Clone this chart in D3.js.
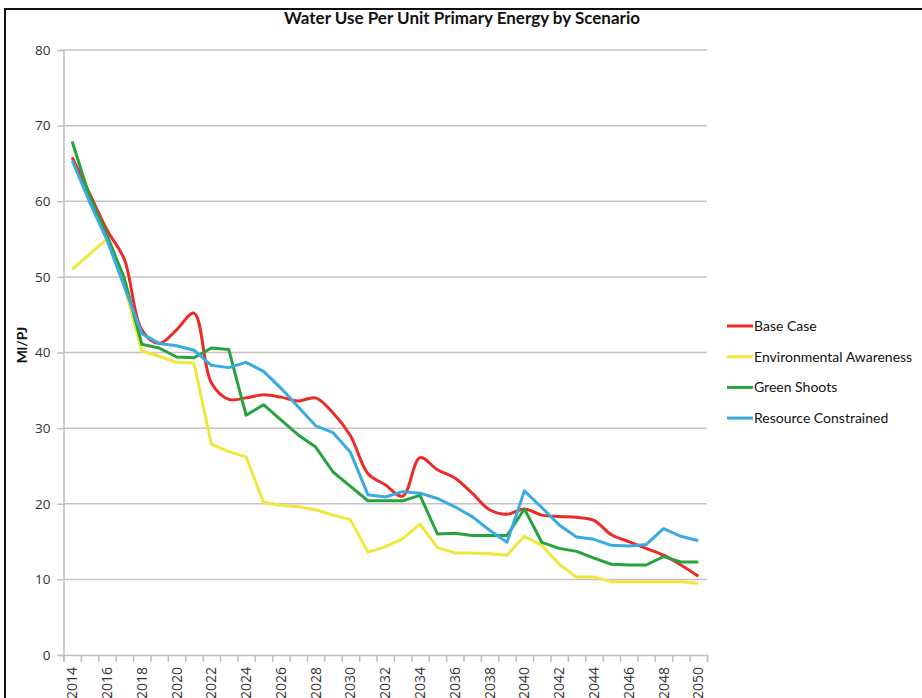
<!DOCTYPE html>
<meta charset="utf-8">
<title>Water Use Per Unit Primary Energy by Scenario</title>
<style>
body {
  margin: 0px;
  background: #fff;
}
svg {
  display: block;
  background-color: #fff;
}
.tick text {
  font-family: "Open Sans", sans-serif;
  fill: #333;
}
.legend text {
  font-family: Lato, sans-serif;
  font-size: 14px;
  fill: #111;
}
</style>

<script src="https://d3js.org/d3.v7.min.js"></script>

<body>
<script>
var width = 922, height = 698;

// categories
var years = [2014, 2015, 2016, 2017, 2018, 2019, 2020, 2021, 2022, 2023,
             2024, 2025, 2026, 2027, 2028, 2029, 2030, 2031, 2032, 2033,
             2034, 2035, 2036, 2037, 2038, 2039, 2040, 2041, 2042, 2043,
             2044, 2045, 2046, 2047, 2048, 2049, 2050];

// series values (Ml/PJ)
var baseCase = [65.8, 61.0, 56.2, 52.3, 43.0, 41.2, 43.0, 45.2, 36.0, 33.8,
                34.0, 34.4, 34.1, 33.6, 34.0, 32.0, 29.0, 24.0, 22.5, 21.0,
                26.1, 24.5, 23.4, 21.4, 19.2, 18.6, 19.3, 18.5, 18.3, 18.2,
                17.8, 15.9, 15.0, 14.1, 13.2, 11.9, 10.4];
var envAwareness = [51.0, 53.0, 55.0, 48.8, 40.2, 39.5, 38.7, 38.6, 27.9, 26.9,
                    26.2, 20.2, 19.8, 19.6, 19.2, 18.5, 17.9, 13.6, 14.3, 15.4,
                    17.3, 14.2, 13.5, 13.5, 13.4, 13.2, 15.7, 14.5, 12.0, 10.3,
                    10.3, 9.7, 9.7, 9.7, 9.7, 9.7, 9.5];
var greenShoots = [67.9, 60.6, 55.5, 49.8, 41.1, 40.6, 39.4, 39.3, 40.6, 40.4,
                   31.7, 33.1, 31.1, 29.1, 27.5, 24.2, 22.3, 20.4, 20.4, 20.4,
                   21.1, 16.0, 16.1, 15.8, 15.8, 15.8, 19.3, 14.9, 14.1, 13.7,
                   12.8, 12.0, 11.9, 11.9, 13.0, 12.3, 12.3];
var resourceConstrained = [65.4, 59.9, 54.9, 48.7, 42.5, 41.2, 40.9, 40.3, 38.3, 38.0,
                           38.7, 37.5, 35.3, 32.8, 30.3, 29.4, 26.8, 21.2, 20.9, 21.6,
                           21.4, 20.7, 19.6, 18.3, 16.5, 14.9, 21.7, 19.5, 17.2, 15.6,
                           15.3, 14.5, 14.4, 14.6, 16.7, 15.7, 15.1];

var seriesNames = ["Base Case", "Environmental Awareness", "Green Shoots", "Resource Constrained"];
var seriesColors = ["#ee2a24", "#eee83a", "#25a33d", "#3aaae2"];
var yTicks = [0, 10, 20, 30, 40, 50, 60, 70, 80];

var series = [baseCase, envAwareness, greenShoots, resourceConstrained];

var svg = d3.select("body").append("svg")
    .attr("width", width)
    .attr("height", height);

// frame of the screenshot
svg.append("path")
    .attr("d", "M5,698 V9 H922")
    .attr("fill", "none")
    .attr("stroke", "#111")
    .attr("stroke-width", 2);

var plotL = 63.5, plotR = 707, plotT = 50, plotB = 655;

var x = d3.scaleLinear()
    .domain([years[0] - 0.5, years[years.length - 1] + 0.5])
    .range([plotL, plotR]);
var y = d3.scaleLinear()
    .domain([0, 80])
    .range([plotB, plotT]);

// gridlines
svg.append("g")
    .selectAll("line")
    .data(yTicks.slice(1))
  .enter().append("line")
    .attr("x1", plotL)
    .attr("x2", plotR)
    .attr("y1", function(d) { return y(d); })
    .attr("y2", function(d) { return y(d); })
    .attr("stroke", "#c4c4c4")
    .attr("stroke-width", 1.5);

// y axis
var yAxis = svg.append("g")
    .attr("transform", "translate(" + plotL + ",0)")
    .call(d3.axisLeft(y).tickValues(yTicks).tickSize(6).tickPadding(7));
yAxis.selectAll("line, path").attr("stroke", "#bdbdbd").attr("stroke-width", 1.5);
yAxis.selectAll("text").style("font-size", "13.5px");

// x axis: ticks between categories
var xAxis = svg.append("g")
    .attr("transform", "translate(0," + plotB + ")")
    .call(d3.axisBottom(x)
      .tickValues(years.map(function(d) { return d - 0.5; }).concat([years[years.length - 1] + 0.5]))
      .tickSize(7)
      .tickFormat(""));
xAxis.selectAll("line, path").attr("stroke", "#bdbdbd").attr("stroke-width", 1.5);

svg.append("g")
    .selectAll("text")
    .data(years.filter(function(d) { return d % 2 == 0; }))
  .enter().append("text")
    .attr("transform", function(d) { return "translate(" + (x(d) + 5) + "," + (plotB + 12) + ") rotate(-90)"; })
    .attr("text-anchor", "end")
    .style("font-family", "'Open Sans', sans-serif")
    .style("font-size", "14px")
    .style("fill", "#333")
    .text(function(d) { return d; });

// lines
var line = d3.line()
    .x(function(d, i) { return x(years[i]); })
    .y(function(d) { return y(d); });
var smooth = d3.line()
    .x(function(d, i) { return x(years[i]); })
    .y(function(d) { return y(d); })
    .curve(d3.curveCatmullRom.alpha(0.5));

svg.append("g")
    .selectAll("path")
    .data(series)
  .enter().append("path")
    .attr("d", function(d, i) { return i == 0 ? smooth(d) : line(d); })
    .attr("fill", "none")
    .attr("stroke", function(d, i) { return seriesColors[i]; })
    .attr("stroke-width", 3)
    .attr("stroke-linejoin", "round");

// title
svg.append("text")
    .attr("x", 462)
    .attr("y", 24)
    .attr("text-anchor", "middle")
    .style("font-family", "Lato, sans-serif")
    .style("font-weight", "bold")
    .style("font-size", "17px")
    .style("fill", "#111")
    .text("Water Use Per Unit Primary Energy by Scenario");

// y axis title
svg.append("text")
    .attr("transform", "translate(27,345) rotate(-90)")
    .attr("text-anchor", "middle")
    .style("font-family", "Lato, sans-serif")
    .style("font-weight", "bold")
    .style("font-size", "14px")
    .style("fill", "#111")
    .text("Ml/PJ");

// legend
var legend = svg.append("g").attr("class", "legend");
var item = legend.selectAll("g")
    .data(seriesNames)
  .enter().append("g")
    .attr("transform", function(d, i) { return "translate(727," + (326 + i * 30.7) + ")"; });
item.append("line")
    .attr("x1", 0)
    .attr("x2", 26)
    .attr("stroke", function(d, i) { return seriesColors[i]; })
    .attr("stroke-width", 3);
item.append("text")
    .attr("x", 27)
    .attr("y", 5)
    .text(function(d) { return d; });
</script>
